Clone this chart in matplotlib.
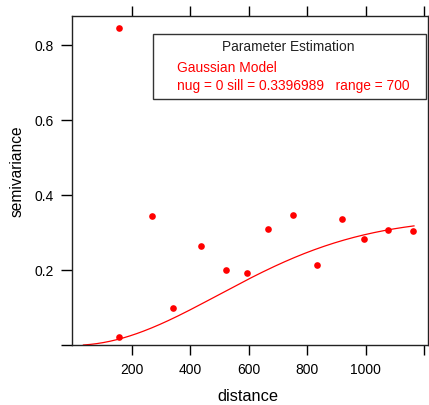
import numpy as np
from matplotlib import pyplot as plt
from matplotlib.patches import Rectangle

plt.rcParams['font.family'] = ['Liberation Sans', 'DejaVu Sans']

dist = [155, 157, 269, 341, 438, 522, 594, 665, 753, 835, 918, 994, 1076, 1163]
gamma = [0.022, 0.845, 0.344, 0.100, 0.266, 0.201, 0.193, 0.311, 0.348, 0.213,
         0.336, 0.283, 0.308, 0.305]

# fitted gaussian model parameters (shown in the key)
nug = 0
sill = 0.3396989
rng = 700
h_min, h_max = 35, 1165

xticks = [200, 400, 600, 800, 1000, 1200]
xticklabels = ['200', '400', '600', '800', '1000', '']
yticks = [0.0, 0.2, 0.4, 0.6, 0.8]
yticklabels = ['', '0.2', '0.4', '0.6', '0.8']

fig = plt.figure(figsize=(4.29, 4.05), dpi=100)
ax = fig.add_axes([0.1685, 0.1474, 0.8292, 0.8131])

h = np.linspace(h_min, h_max, 200)
model = nug + sill * (1 - np.exp(-(h / rng) ** 2))
ax.plot(h, model, color='red', lw=0.9)
ax.plot(dist, gamma, 'o', color='red', markersize=4.8, markeredgewidth=0)

ax.set_xlim(-3, 1213)
ax.set_ylim(0, 0.878)
ax.set_xticks(xticks)
ax.set_xticklabels(xticklabels)
ax.set_yticks(yticks)
ax.set_yticklabels(yticklabels)
ax.tick_params(axis='x', top=True, direction='out', length=7, width=1,
               labelsize=10, pad=6)
ax.tick_params(axis='y', direction='out', length=8, width=1,
               labelsize=10, pad=5)
for s in ax.spines.values():
    s.set_linewidth(1)
    s.set_color('#222222')

fig.text(0.578, 0.0198, 'distance', fontsize=11.8, ha='center', va='center')
fig.text(0.040, 0.578, 'semivariance', fontsize=11.2, rotation=90,
         ha='center', va='center')

# parameter key box
fig.patches.append(Rectangle((0.3566, 0.7556), 0.636, 0.1605,
                             transform=fig.transFigure, fill=False,
                             edgecolor='#333333', lw=1))
fig.text(0.671, 0.884, 'Parameter Estimation', fontsize=9.9,
         ha='center', va='center', color='#222222')
fig.text(0.4126, 0.832, 'Gaussian Model', fontsize=9.9,
         ha='left', va='center', color='red')
fig.text(0.4126, 0.788,
         'nug = %g sill = %s   range = %g' % (nug, sill, rng),
         fontsize=9.9, ha='left', va='center', color='red')

fig.savefig('out.png', dpi=100)
